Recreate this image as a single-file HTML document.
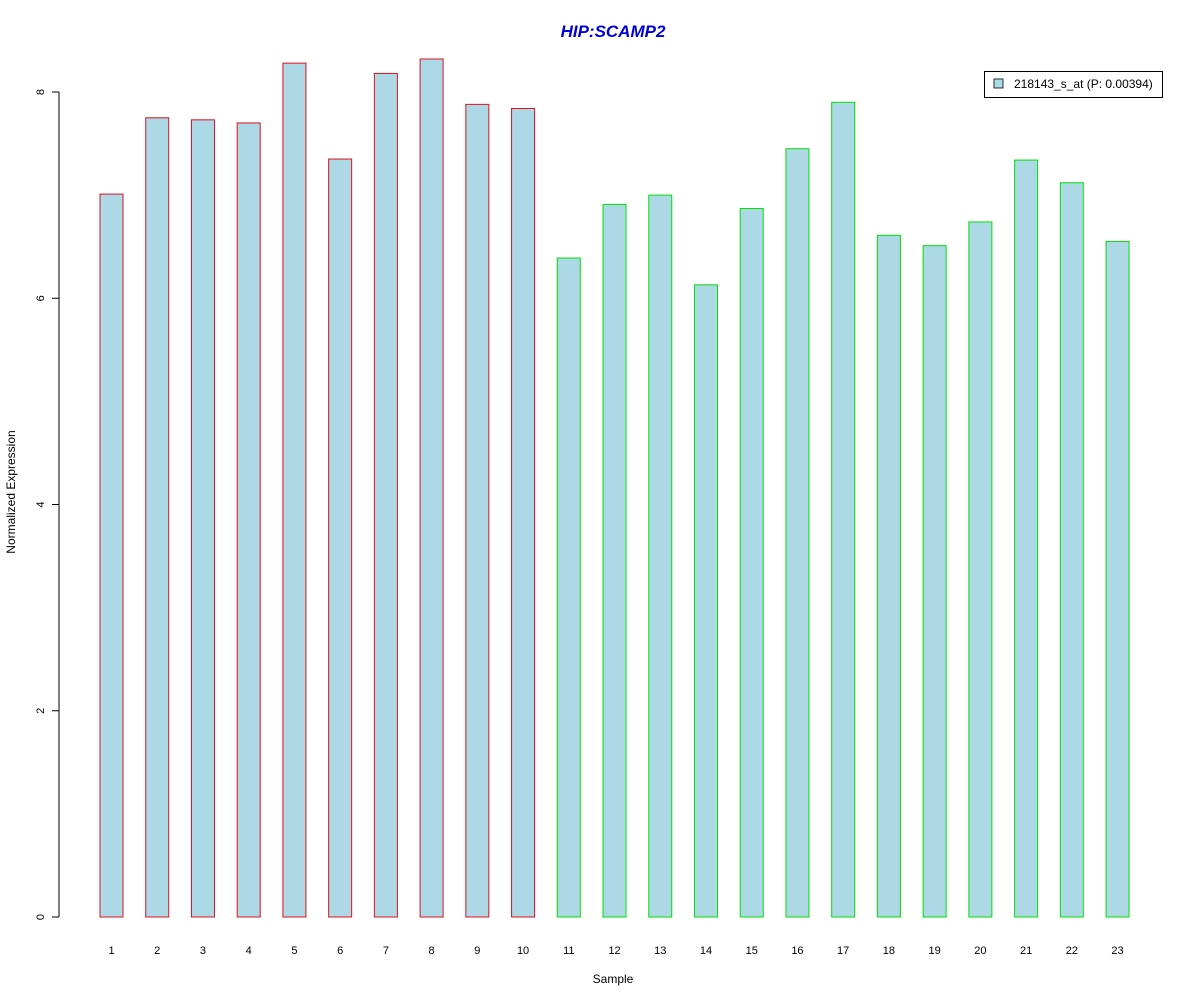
<!DOCTYPE html>
<html><head><meta charset="utf-8"><style>
body{margin:0;background:#fff}
svg{display:block;font-family:"Liberation Sans",Arial,sans-serif}
</style></head><body>
<svg id="chart" width="1200" height="1000" xmlns="http://www.w3.org/2000/svg">
<rect width="1200" height="1000" fill="#fff"/>
<text x="613" y="37" text-anchor="middle" font-size="17" font-weight="bold" font-style="italic" fill="#0000dd">HIP:SCAMP2</text>
<text x="613" y="983" text-anchor="middle" font-size="12">Sample</text>
<text transform="translate(15,492) rotate(-90)" text-anchor="middle" font-size="12">Normalized Expression</text>
<line x1="59" y1="92" x2="59" y2="917" stroke="#000"/>
<g id="ticks"></g>
<g id="bars"></g>
<g>
<rect x="984.5" y="71.5" width="178" height="26" fill="#fff" stroke="#000"/>
<rect x="994" y="79" width="9" height="9" fill="#add8e6" stroke="#000" stroke-width="0.8"/>
<text x="1014" y="88" font-size="12">218143_s_at (P: 0.00394)</text>
</g>
</svg>
<script>
const categories=["1","2","3","4","5","6","7","8","9","10","11","12","13","14","15","16","17","18","19","20","21","22","23"];
const values=[7.01,7.75,7.73,7.70,8.28,7.35,8.18,8.32,7.88,7.84,6.39,6.91,7.00,6.13,6.87,7.45,7.90,6.61,6.51,6.74,7.34,7.12,6.55];
const groups=["a","a","a","a","a","a","a","a","a","a","b","b","b","b","b","b","b","b","b","b","b","b","b"];
const yTicks=[0,2,4,6,8];
const NS="http://www.w3.org/2000/svg";
function yScale(v){return 917-v*103.125;}
function xCenter(i){return 111.5+i*45.73;}
const bars=document.getElementById('bars'),ticks=document.getElementById('ticks');
yTicks.forEach(t=>{
 const y=yScale(t);
 const l=document.createElementNS(NS,'line');
 l.setAttribute('x1',52);l.setAttribute('x2',59);l.setAttribute('y1',y);l.setAttribute('y2',y);l.setAttribute('stroke','#000');
 
 
 ticks.appendChild(l);
 const tx=document.createElementNS(NS,'text');
 tx.setAttribute('transform','translate(44,'+y+') rotate(-90)');tx.setAttribute('text-anchor','middle');tx.setAttribute('font-size','11');
 tx.textContent=t;
 
 
 ticks.appendChild(tx);
});
categories.forEach((c,i)=>{
 const cx=xCenter(i),y=yScale(values[i]);
 const r=document.createElementNS(NS,'rect');
 r.setAttribute('x',cx-11.5);r.setAttribute('y',y);r.setAttribute('width',23);r.setAttribute('height',917-y);
 r.setAttribute('fill','#add8e6');r.setAttribute('stroke',groups[i]==='a'?'#e0101a':'#00e000');
 
 
 bars.appendChild(r);
 const t=document.createElementNS(NS,'text');
 t.setAttribute('x',cx);t.setAttribute('y',954);t.setAttribute('text-anchor','middle');t.setAttribute('font-size','11');
 t.textContent=c;
 
 
 bars.appendChild(t);
});
</script>
</body></html>
